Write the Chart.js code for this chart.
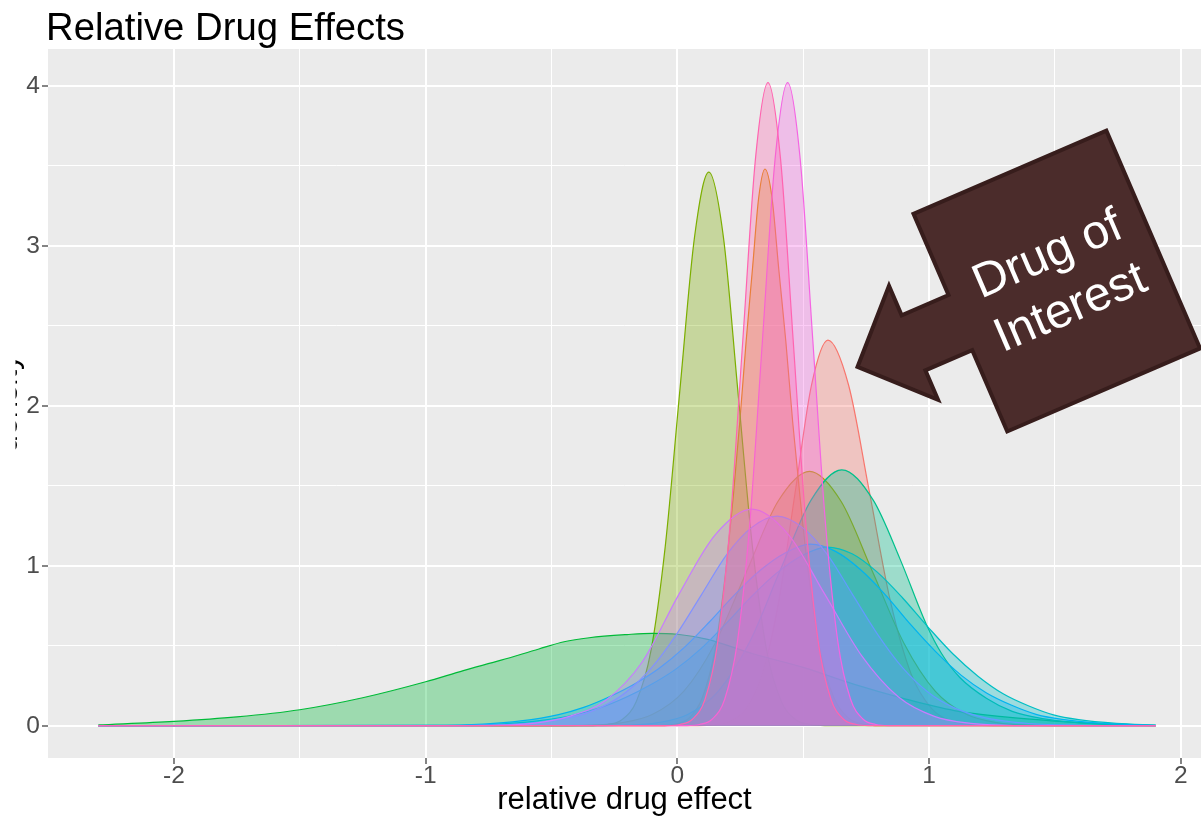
<!DOCTYPE html>
<html>
<head>
<meta charset="utf-8">
<title>Relative Drug Effects</title>
<script src="https://cdn.jsdelivr.net/npm/chart.js@4.4.1/dist/chart.umd.min.js"></script>
<style>
  html, body { margin: 0; padding: 0; background: #ffffff; }
  #wrap { width: 1201px; height: 821px; position: relative; overflow: hidden; }
  canvas { display: block; }
</style>
</head>
<body>
<div id="wrap"><canvas id="chart" width="1201" height="821"></canvas></div>
<script>
// Density estimates of the relative effect, one curve per drug.
const drug01X = [-2.3, 0.08, 0.143, 0.208, 0.273, 0.338, 0.403, 0.468, 0.533, 0.598, 0.68, 0.763, 0.846, 0.928, 1.011, 1.093, 1.176, 1.26, 1.9];
const drug01Y = [0, 0.001, 0.005, 0.027, 0.106, 0.326, 0.78, 1.46, 2.13, 2.41, 2.13, 1.46, 0.78, 0.326, 0.106, 0.027, 0.005, 0.001, 0];

const drug02X = [-2.3, -0.072, -0.002, 0.048, 0.098, 0.148, 0.173, 0.198, 0.223, 0.248, 0.273, 0.298, 0.323, 0.348, 0.376, 0.403, 0.431, 0.458, 0.486, 0.513, 0.541, 0.568, 0.623, 0.678, 0.733, 0.808, 1.9];
const drug02Y = [0, 0.001, 0.012, 0.05, 0.17, 0.46, 0.72, 1.05, 1.45, 1.9, 2.4, 2.85, 3.3, 3.48, 3.3, 2.85, 2.4, 1.9, 1.45, 1.05, 0.72, 0.46, 0.17, 0.05, 0.012, 0.001, 0];

const drug03X = [-2.3, -0.475, -0.35, -0.225, -0.1, 0.025, 0.15, 0.275, 0.4, 0.525, 0.65, 0.775, 0.9, 1.025, 1.15, 1.275, 1.4, 1.525, 1.9];
const drug03Y = [0, 0.001, 0.004, 0.018, 0.07, 0.215, 0.516, 0.964, 1.403, 1.59, 1.403, 0.964, 0.516, 0.215, 0.07, 0.018, 0.004, 0.001, 0];

const drug04X = [-2.3, -0.335, -0.278, -0.22, -0.163, -0.105, -0.048, 0.01, 0.068, 0.125, 0.183, 0.24, 0.298, 0.355, 0.413, 0.47, 0.528, 0.585, 1.9];
const drug04Y = [0, 0.001, 0.008, 0.038, 0.152, 0.468, 1.123, 2.098, 3.053, 3.46, 3.053, 2.098, 1.123, 0.468, 0.152, 0.038, 0.008, 0.001, 0];

const drug05X = [-2.3, -2.0, -1.75, -1.5, -1.25, -1.0, -0.85, -0.7, -0.55, -0.45, -0.35, -0.2, -0.1, 0.0, 0.12, 0.3, 0.5, 0.7, 0.9, 1.1, 1.3, 1.5, 1.7, 1.9];
const drug05Y = [0.005, 0.027, 0.055, 0.10, 0.175, 0.275, 0.345, 0.41, 0.48, 0.525, 0.55, 0.57, 0.578, 0.572, 0.54, 0.45, 0.365, 0.26, 0.17, 0.095, 0.055, 0.029, 0.012, 0.003];

const drug06X = [-2.3, -0.35, -0.2, -0.082, 0.041, 0.163, 0.286, 0.408, 0.531, 0.653, 0.778, 0.885, 0.99, 1.05, 1.123, 1.229, 1.33, 1.45, 1.6, 1.75, 1.9];
const drug06Y = [0, 0.001, 0.004, 0.018, 0.07, 0.217, 0.52, 0.97, 1.41, 1.60, 1.41, 1.04, 0.63, 0.45, 0.30, 0.17, 0.09, 0.045, 0.018, 0.006, 0.001];

const drug07X = [-2.3, -0.906, -0.706, -0.556, -0.406, -0.306, -0.206, -0.106, -0.006, 0.094, 0.194, 0.294, 0.394, 0.494, 0.594, 0.694, 0.794, 0.894, 0.994, 1.094, 1.194, 1.294, 1.394, 1.494, 1.594, 1.744, 1.9];
const drug07Y = [0, 0.002, 0.01, 0.03, 0.069, 0.113, 0.177, 0.256, 0.354, 0.482, 0.64, 0.807, 0.954, 1.063, 1.117, 1.075, 0.96, 0.80, 0.62, 0.45, 0.31, 0.2, 0.125, 0.068, 0.038, 0.015, 0.004];

const drug08X = [-2.3, -0.972, -0.772, -0.622, -0.472, -0.372, -0.272, -0.172, -0.072, 0.028, 0.128, 0.228, 0.328, 0.428, 0.528, 0.628, 0.728, 0.828, 0.928, 1.028, 1.128, 1.228, 1.328, 1.428, 1.528, 1.678, 1.828, 1.9];
const drug08Y = [0, 0.002, 0.01, 0.03, 0.07, 0.115, 0.18, 0.26, 0.36, 0.49, 0.65, 0.82, 0.97, 1.08, 1.135, 1.09, 0.975, 0.815, 0.63, 0.46, 0.315, 0.205, 0.128, 0.07, 0.04, 0.016, 0.006, 0.003];

const drug09X = [-2.3, -1.004, -0.804, -0.604, -0.504, -0.404, -0.304, -0.204, -0.104, -0.004, 0.096, 0.196, 0.296, 0.396, 0.496, 0.596, 0.696, 0.796, 0.896, 0.996, 1.096, 1.196, 1.296, 1.396, 1.596, 1.796, 1.9];
const drug09Y = [0, 0.0005, 0.003, 0.014, 0.03, 0.06, 0.115, 0.21, 0.36, 0.57, 0.82, 1.07, 1.24, 1.31, 1.24, 1.07, 0.82, 0.57, 0.36, 0.21, 0.115, 0.06, 0.03, 0.014, 0.003, 0.0005, 0];

const drug10X = [-2.3, -0.864, -0.719, -0.574, -0.429, -0.284, -0.139, 0.006, 0.151, 0.296, 0.441, 0.586, 0.731, 0.876, 1.021, 1.166, 1.311, 1.456, 1.9];
const drug10Y = [0, 0.0004, 0.003, 0.015, 0.059, 0.16, 0.40, 0.821, 1.195, 1.354, 1.195, 0.821, 0.44, 0.183, 0.059, 0.015, 0.003, 0.0004, 0];

const drug11X = [-2.3, 0.038, 0.088, 0.138, 0.188, 0.238, 0.288, 0.338, 0.388, 0.438, 0.488, 0.538, 0.588, 0.638, 0.688, 0.738, 0.788, 0.838, 1.9];
const drug11Y = [0, 0.001, 0.008, 0.041, 0.166, 0.52, 1.27, 2.41, 3.54, 4.02, 3.54, 2.41, 1.27, 0.52, 0.166, 0.041, 0.008, 0.001, 0];

const drug12X = [-2.3, -0.04, 0.01, 0.06, 0.11, 0.16, 0.21, 0.26, 0.31, 0.36, 0.41, 0.46, 0.51, 0.56, 0.61, 0.66, 0.71, 0.76, 1.9];
const drug12Y = [0, 0.001, 0.008, 0.041, 0.166, 0.52, 1.27, 2.41, 3.54, 4.02, 3.54, 2.41, 1.27, 0.52, 0.166, 0.041, 0.008, 0.001, 0];

// Axis tick labels
const xTickValues = [-2, -1, 0, 1, 2];
const yTickValues = [0, 1, 2, 3, 4];

// Default discrete hue palette, one colour per drug
const groupColours = ['#F8766D', '#DE8C00', '#B79F00', '#7CAE00', '#00BA38', '#00C08B',
                      '#00BFC4', '#00B4F0', '#619CFF', '#C77CFF', '#F564E3', '#FF64B0'];

const groupsX = [drug01X, drug02X, drug03X, drug04X, drug05X, drug06X, drug07X, drug08X, drug09X, drug10X, drug11X, drug12X];
const groupsY = [drug01Y, drug02Y, drug03Y, drug04Y, drug05Y, drug06Y, drug07Y, drug08Y, drug09Y, drug10Y, drug11Y, drug12Y];

const FONT = "'Liberation Sans', Arial, Helvetica, sans-serif";

function withAlpha(hex, a) {
  const n = parseInt(hex.slice(1), 16);
  return `rgba(${(n >> 16) & 255}, ${(n >> 8) & 255}, ${n & 255}, ${a})`;
}

// Later groups are painted over earlier ones
const datasets = groupsX.map((xs, i) => ({
  label: 'drug ' + (i + 1),
  data: xs.map((x, j) => ({ x: x, y: groupsY[i][j] })),
  borderColor: groupColours[i],
  backgroundColor: withAlpha(groupColours[i], 0.33),
  borderWidth: 1.2,
  fill: 'origin',
  pointRadius: 0,
  cubicInterpolationMode: 'monotone',
  order: groupsX.length - 1 - i
}));

// Grey panel behind the grid
const panelBackground = {
  id: 'panelBackground',
  beforeDraw(chart) {
    const { ctx, chartArea: a } = chart;
    ctx.save();
    ctx.fillStyle = '#EBEBEB';
    ctx.fillRect(a.left, a.top, a.right - a.left, a.bottom - a.top);
    ctx.restore();
  }
};

// Plot title and the (clipped) y axis title
const plotTexts = {
  id: 'plotTexts',
  afterDraw(chart) {
    const ctx = chart.ctx;
    ctx.save();
    ctx.fillStyle = '#000000';
    ctx.font = `38.3px ${FONT}`;
    ctx.textAlign = 'left';
    ctx.textBaseline = 'alphabetic';
    ctx.fillText('Relative Drug Effects', 46, 40);
    ctx.restore();

    ctx.save();
    ctx.beginPath();
    ctx.rect(15.5, 0, 30, chart.height);
    ctx.clip();
    ctx.translate(16.8, (chart.chartArea.top + chart.chartArea.bottom) / 2);
    ctx.rotate(-Math.PI / 2);
    ctx.fillStyle = '#000000';
    ctx.font = `31px ${FONT}`;
    ctx.textAlign = 'center';
    ctx.textBaseline = 'alphabetic';
    ctx.fillText('density', 0, 0);
    ctx.restore();
  }
};

// Call-out arrow pointing at the drug of interest
const calloutArrow = {
  id: 'calloutArrow',
  afterDraw(chart) {
    const ctx = chart.ctx;
    const outline = [
      [-105, -118.5], [105, -118.5], [105, 118.5], [-105, 118.5],
      [-105, 30], [-156, 30], [-156, 62], [-217, 0], [-156, -62], [-156, -30], [-105, -30]
    ];
    ctx.save();
    ctx.translate(1056.8, 281.1);
    ctx.rotate(-23.3 * Math.PI / 180);
    ctx.beginPath();
    outline.forEach(([u, v], k) => (k ? ctx.lineTo(u, v) : ctx.moveTo(u, v)));
    ctx.closePath();
    ctx.fillStyle = '#4B2C2B';
    ctx.fill();
    ctx.lineWidth = 4;
    ctx.lineJoin = 'miter';
    ctx.strokeStyle = '#371D1C';
    ctx.stroke();
    ctx.fillStyle = '#FFFFFF';
    ctx.font = `48px ${FONT}`;
    ctx.textAlign = 'center';
    ctx.textBaseline = 'middle';
    ctx.fillText('Drug of', 2, -27);
    ctx.fillText('Interest', 2, 31);
    ctx.restore();
  }
};

const isMajorX = v => xTickValues.includes(v);
const isMajorY = v => yTickValues.includes(v);

new Chart(document.getElementById('chart'), {
  type: 'line',
  data: { datasets: datasets },
  options: {
    responsive: false,
    animation: false,
    devicePixelRatio: 1,
    layout: { padding: { top: 49, left: 0, right: 0, bottom: 0 } },
    plugins: {
      legend: { display: false },
      tooltip: { enabled: false },
      title: { display: false }
    },
    scales: {
      x: {
        type: 'linear',
        min: -2.5,
        max: 2.08,
        afterFit(scale) { scale.height = 63; },
        border: { display: false },
        grid: {
          color: ctx => (ctx.tick && ctx.tick.value > -2.45 ? '#FFFFFF' : 'rgba(0,0,0,0)'),
          lineWidth: ctx => (ctx.tick && isMajorX(ctx.tick.value) ? 2 : 1),
          drawTicks: true,
          tickLength: 6,
          tickWidth: 1.2,
          tickColor: ctx => (ctx.tick && isMajorX(ctx.tick.value) ? '#333333' : 'rgba(0,0,0,0)')
        },
        ticks: {
          stepSize: 0.5,
          includeBounds: false,
          autoSkip: false,
          maxRotation: 0,
          padding: 0,
          color: '#4D4D4D',
          font: { family: FONT, size: 24.5, lineHeight: 1.0 },
          callback: v => (isMajorX(v) ? String(v) : '')
        },
        title: {
          display: true,
          text: 'relative drug effect',
          color: '#000000',
          font: { family: FONT, size: 31 },
          padding: { top: 0, bottom: 2 }
        }
      },
      y: {
        type: 'linear',
        min: -0.2015,
        max: 4.23,
        afterFit(scale) { scale.width = 48; },
        border: { display: false },
        grid: {
          color: '#FFFFFF',
          lineWidth: ctx => (ctx.tick && isMajorY(ctx.tick.value) ? 2 : 1),
          drawTicks: true,
          tickLength: 6,
          tickWidth: 1.2,
          tickColor: ctx => (ctx.tick && isMajorY(ctx.tick.value) ? '#333333' : 'rgba(0,0,0,0)')
        },
        ticks: {
          stepSize: 0.5,
          includeBounds: false,
          autoSkip: false,
          padding: 2,
          color: '#4D4D4D',
          font: { family: FONT, size: 24.5 },
          callback: v => (isMajorY(v) ? String(v) : '')
        }
      }
    }
  },
  plugins: [panelBackground, plotTexts, calloutArrow]
});
</script>
</body>
</html>
